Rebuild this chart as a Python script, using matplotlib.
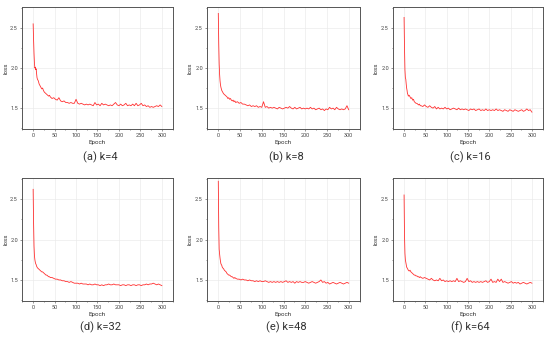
import matplotlib
matplotlib.use("Agg")
import matplotlib.pyplot as plt
from matplotlib.ticker import MultipleLocator, FormatStrFormatter

plt.rcParams["font.family"] = ["Roboto", "DejaVu Sans"]

# ---------- data -------------------------------------------------------
epochs = list(range(0, 11)) + list(range(12, 40, 2)) + list(range(40, 301, 4))

loss_k4 = [
    2.55, 2.35, 2.18, 2.06, 2.00, 2.01, 1.98, 1.99, 1.93, 1.88, 1.86,
    1.84, 1.80, 1.78, 1.76, 1.74, 1.75, 1.72, 1.70, 1.69, 1.68, 1.67, 1.66, 1.65, 1.66,
    1.64, 1.62, 1.63, 1.61, 1.60, 1.63, 1.59, 1.58, 1.59, 1.57,
    1.57, 1.56, 1.57, 1.56, 1.56, 1.61, 1.56, 1.55, 1.56, 1.55,
    1.54, 1.55, 1.54, 1.55, 1.54, 1.53, 1.57, 1.54, 1.55, 1.53,
    1.56, 1.54, 1.55, 1.54, 1.53, 1.54, 1.53, 1.55, 1.57, 1.54,
    1.53, 1.55, 1.53, 1.54, 1.56, 1.53, 1.54, 1.53, 1.55, 1.53,
    1.56, 1.53, 1.54, 1.56, 1.53, 1.54, 1.52, 1.53, 1.51, 1.52,
    1.51, 1.52, 1.53, 1.52, 1.54, 1.52,
]
loss_k8 = [
    2.68, 2.30, 2.05, 1.92, 1.84, 1.79, 1.76, 1.74, 1.72, 1.71, 1.70,
    1.68, 1.67, 1.66, 1.65, 1.64, 1.62, 1.63, 1.61, 1.62, 1.60, 1.59, 1.60, 1.58, 1.59,
    1.57, 1.58, 1.56, 1.57, 1.55, 1.55, 1.54, 1.53, 1.54, 1.52,
    1.53, 1.52, 1.53, 1.51, 1.52, 1.51, 1.58, 1.51, 1.52, 1.50,
    1.51, 1.50, 1.51, 1.50, 1.49, 1.51, 1.50, 1.49, 1.50, 1.51,
    1.50, 1.52, 1.50, 1.49, 1.51, 1.49, 1.50, 1.51, 1.49, 1.50,
    1.49, 1.50, 1.49, 1.51, 1.49, 1.50, 1.48, 1.49, 1.50, 1.48,
    1.49, 1.47, 1.49, 1.48, 1.51, 1.49, 1.50, 1.48, 1.51, 1.49,
    1.48, 1.49, 1.48, 1.49, 1.53, 1.48,
]
loss_k16 = [
    2.63, 2.25, 1.98, 1.88, 1.86, 1.80, 1.75, 1.72, 1.68, 1.67, 1.65,
    1.66, 1.64, 1.62, 1.63, 1.60, 1.61, 1.58, 1.57, 1.56, 1.56, 1.55, 1.54, 1.55, 1.53,
    1.53, 1.52, 1.54, 1.52, 1.51, 1.53, 1.51, 1.50, 1.52, 1.49,
    1.51, 1.49, 1.50, 1.49, 1.51, 1.49, 1.50, 1.48, 1.49, 1.50,
    1.49, 1.48, 1.50, 1.48, 1.49, 1.48, 1.49, 1.48, 1.47, 1.49,
    1.48, 1.49, 1.47, 1.48, 1.49, 1.47, 1.48, 1.47, 1.49, 1.47,
    1.48, 1.47, 1.48, 1.47, 1.49, 1.47, 1.48, 1.47, 1.46, 1.48,
    1.47, 1.46, 1.48, 1.47, 1.46, 1.48, 1.47, 1.46, 1.47, 1.48,
    1.46, 1.47, 1.49, 1.47, 1.48, 1.45,
]
loss_k32 = [
    2.62, 2.20, 1.92, 1.80, 1.75, 1.72, 1.70, 1.69, 1.67, 1.66, 1.65,
    1.64, 1.63, 1.62, 1.61, 1.60, 1.60, 1.59, 1.58, 1.57, 1.56, 1.56, 1.55, 1.54, 1.54,
    1.53, 1.53, 1.52, 1.51, 1.51, 1.50, 1.50, 1.49, 1.49, 1.48,
    1.48, 1.47, 1.48, 1.47, 1.46, 1.46, 1.46, 1.45, 1.46, 1.45,
    1.45, 1.45, 1.44, 1.45, 1.44, 1.44, 1.45, 1.44, 1.44, 1.43,
    1.44, 1.43, 1.44, 1.44, 1.45, 1.44, 1.44, 1.45, 1.44, 1.44,
    1.44, 1.43, 1.44, 1.44, 1.43, 1.44, 1.44, 1.43, 1.44, 1.44,
    1.43, 1.44, 1.44, 1.43, 1.44, 1.44, 1.45, 1.44, 1.45, 1.45,
    1.46, 1.45, 1.44, 1.45, 1.44, 1.43,
]
loss_k48 = [
    2.72, 2.15, 1.88, 1.82, 1.77, 1.73, 1.70, 1.69, 1.68, 1.66, 1.65,
    1.64, 1.62, 1.61, 1.60, 1.58, 1.57, 1.56, 1.56, 1.55, 1.54, 1.54, 1.53, 1.52, 1.53,
    1.52, 1.51, 1.51, 1.50, 1.51, 1.50, 1.50, 1.49, 1.50, 1.49,
    1.49, 1.48, 1.49, 1.48, 1.49, 1.48, 1.48, 1.49, 1.48, 1.47,
    1.48, 1.47, 1.48, 1.47, 1.48, 1.47, 1.48, 1.47, 1.48, 1.49,
    1.47, 1.48, 1.47, 1.48, 1.46, 1.48, 1.47, 1.48, 1.47, 1.47,
    1.48, 1.47, 1.46, 1.47, 1.48, 1.47, 1.46, 1.47, 1.48, 1.50,
    1.47, 1.48, 1.46, 1.47, 1.45, 1.46, 1.47, 1.46, 1.45, 1.46,
    1.47, 1.46, 1.45, 1.46, 1.47, 1.46,
]
loss_k64 = [
    2.55, 2.05, 1.83, 1.75, 1.72, 1.69, 1.66, 1.65, 1.64, 1.63, 1.62,
    1.61, 1.62, 1.60, 1.59, 1.58, 1.57, 1.56, 1.56, 1.55, 1.55, 1.54, 1.54, 1.53, 1.54,
    1.53, 1.52, 1.53, 1.52, 1.51, 1.50, 1.52, 1.50, 1.49, 1.50,
    1.49, 1.52, 1.49, 1.50, 1.48, 1.49, 1.48, 1.49, 1.48, 1.49,
    1.48, 1.52, 1.48, 1.49, 1.48, 1.47, 1.48, 1.52, 1.48, 1.49,
    1.47, 1.48, 1.47, 1.48, 1.47, 1.48, 1.47, 1.48, 1.49, 1.47,
    1.48, 1.51, 1.47, 1.48, 1.47, 1.51, 1.48, 1.51, 1.47, 1.48,
    1.47, 1.46, 1.47, 1.48, 1.46, 1.47, 1.46, 1.47, 1.45, 1.46,
    1.47, 1.46, 1.45, 1.46, 1.47, 1.46,
]

series = [loss_k4, loss_k8, loss_k16, loss_k32, loss_k48, loss_k64]
captions = ["(a) k=4", "(b) k=8", "(c) k=16", "(d) k=32", "(e) k=48", "(f) k=64"]

# ---------- layout -----------------------------------------------------
W, H = 550, 341
col_px = [(22, 173), (207, 360), (393, 543)]
row_px = [(7, 129), (178, 301)]
caption_y = [157, 327]

fig = plt.figure(figsize=(W / 100, H / 100), dpi=100)

for i, (loss, cap) in enumerate(zip(series, captions)):
    r, c = divmod(i, 3)
    x0, x1 = col_px[c]
    y0, y1 = row_px[r]
    ax = fig.add_axes([x0 / W, 1 - y1 / H, (x1 - x0) / W, (y1 - y0) / H])
    ax.plot(epochs, loss, color="#ff3030", lw=0.6)
    ax.set_xlim(-26, 326)
    ax.set_ylim(1.24, 2.76)
    ax.xaxis.set_major_locator(MultipleLocator(50))
    ax.xaxis.set_minor_locator(MultipleLocator(25))
    ax.yaxis.set_major_locator(MultipleLocator(0.5))
    ax.yaxis.set_minor_locator(MultipleLocator(0.25))
    ax.yaxis.set_major_formatter(FormatStrFormatter("%.1f"))
    ax.grid(True, which="major", color="#ebebeb", lw=0.5)
    ax.set_axisbelow(True)
    ax.tick_params(which="major", direction="out", length=1.5, width=0.4,
                   labelsize=4, pad=1.5, colors="#444444")
    ax.tick_params(which="minor", direction="out", length=1.0, width=0.4,
                   colors="#444444")
    for sp in ax.spines.values():
        sp.set_color("#555555")
        sp.set_linewidth(0.7)
    ax.set_xlabel("Epoch", fontsize=4.5, labelpad=1.5, color="#333333")
    ax.set_ylabel("loss", fontsize=4.5, labelpad=1.5, color="#333333")
    fig.text((x0 + x1) / 2 / W + 0.005, 1 - caption_y[r] / H, cap,
             ha="center", va="center", fontsize=8, color="#333333")

plt.savefig("out.png", dpi=100)
